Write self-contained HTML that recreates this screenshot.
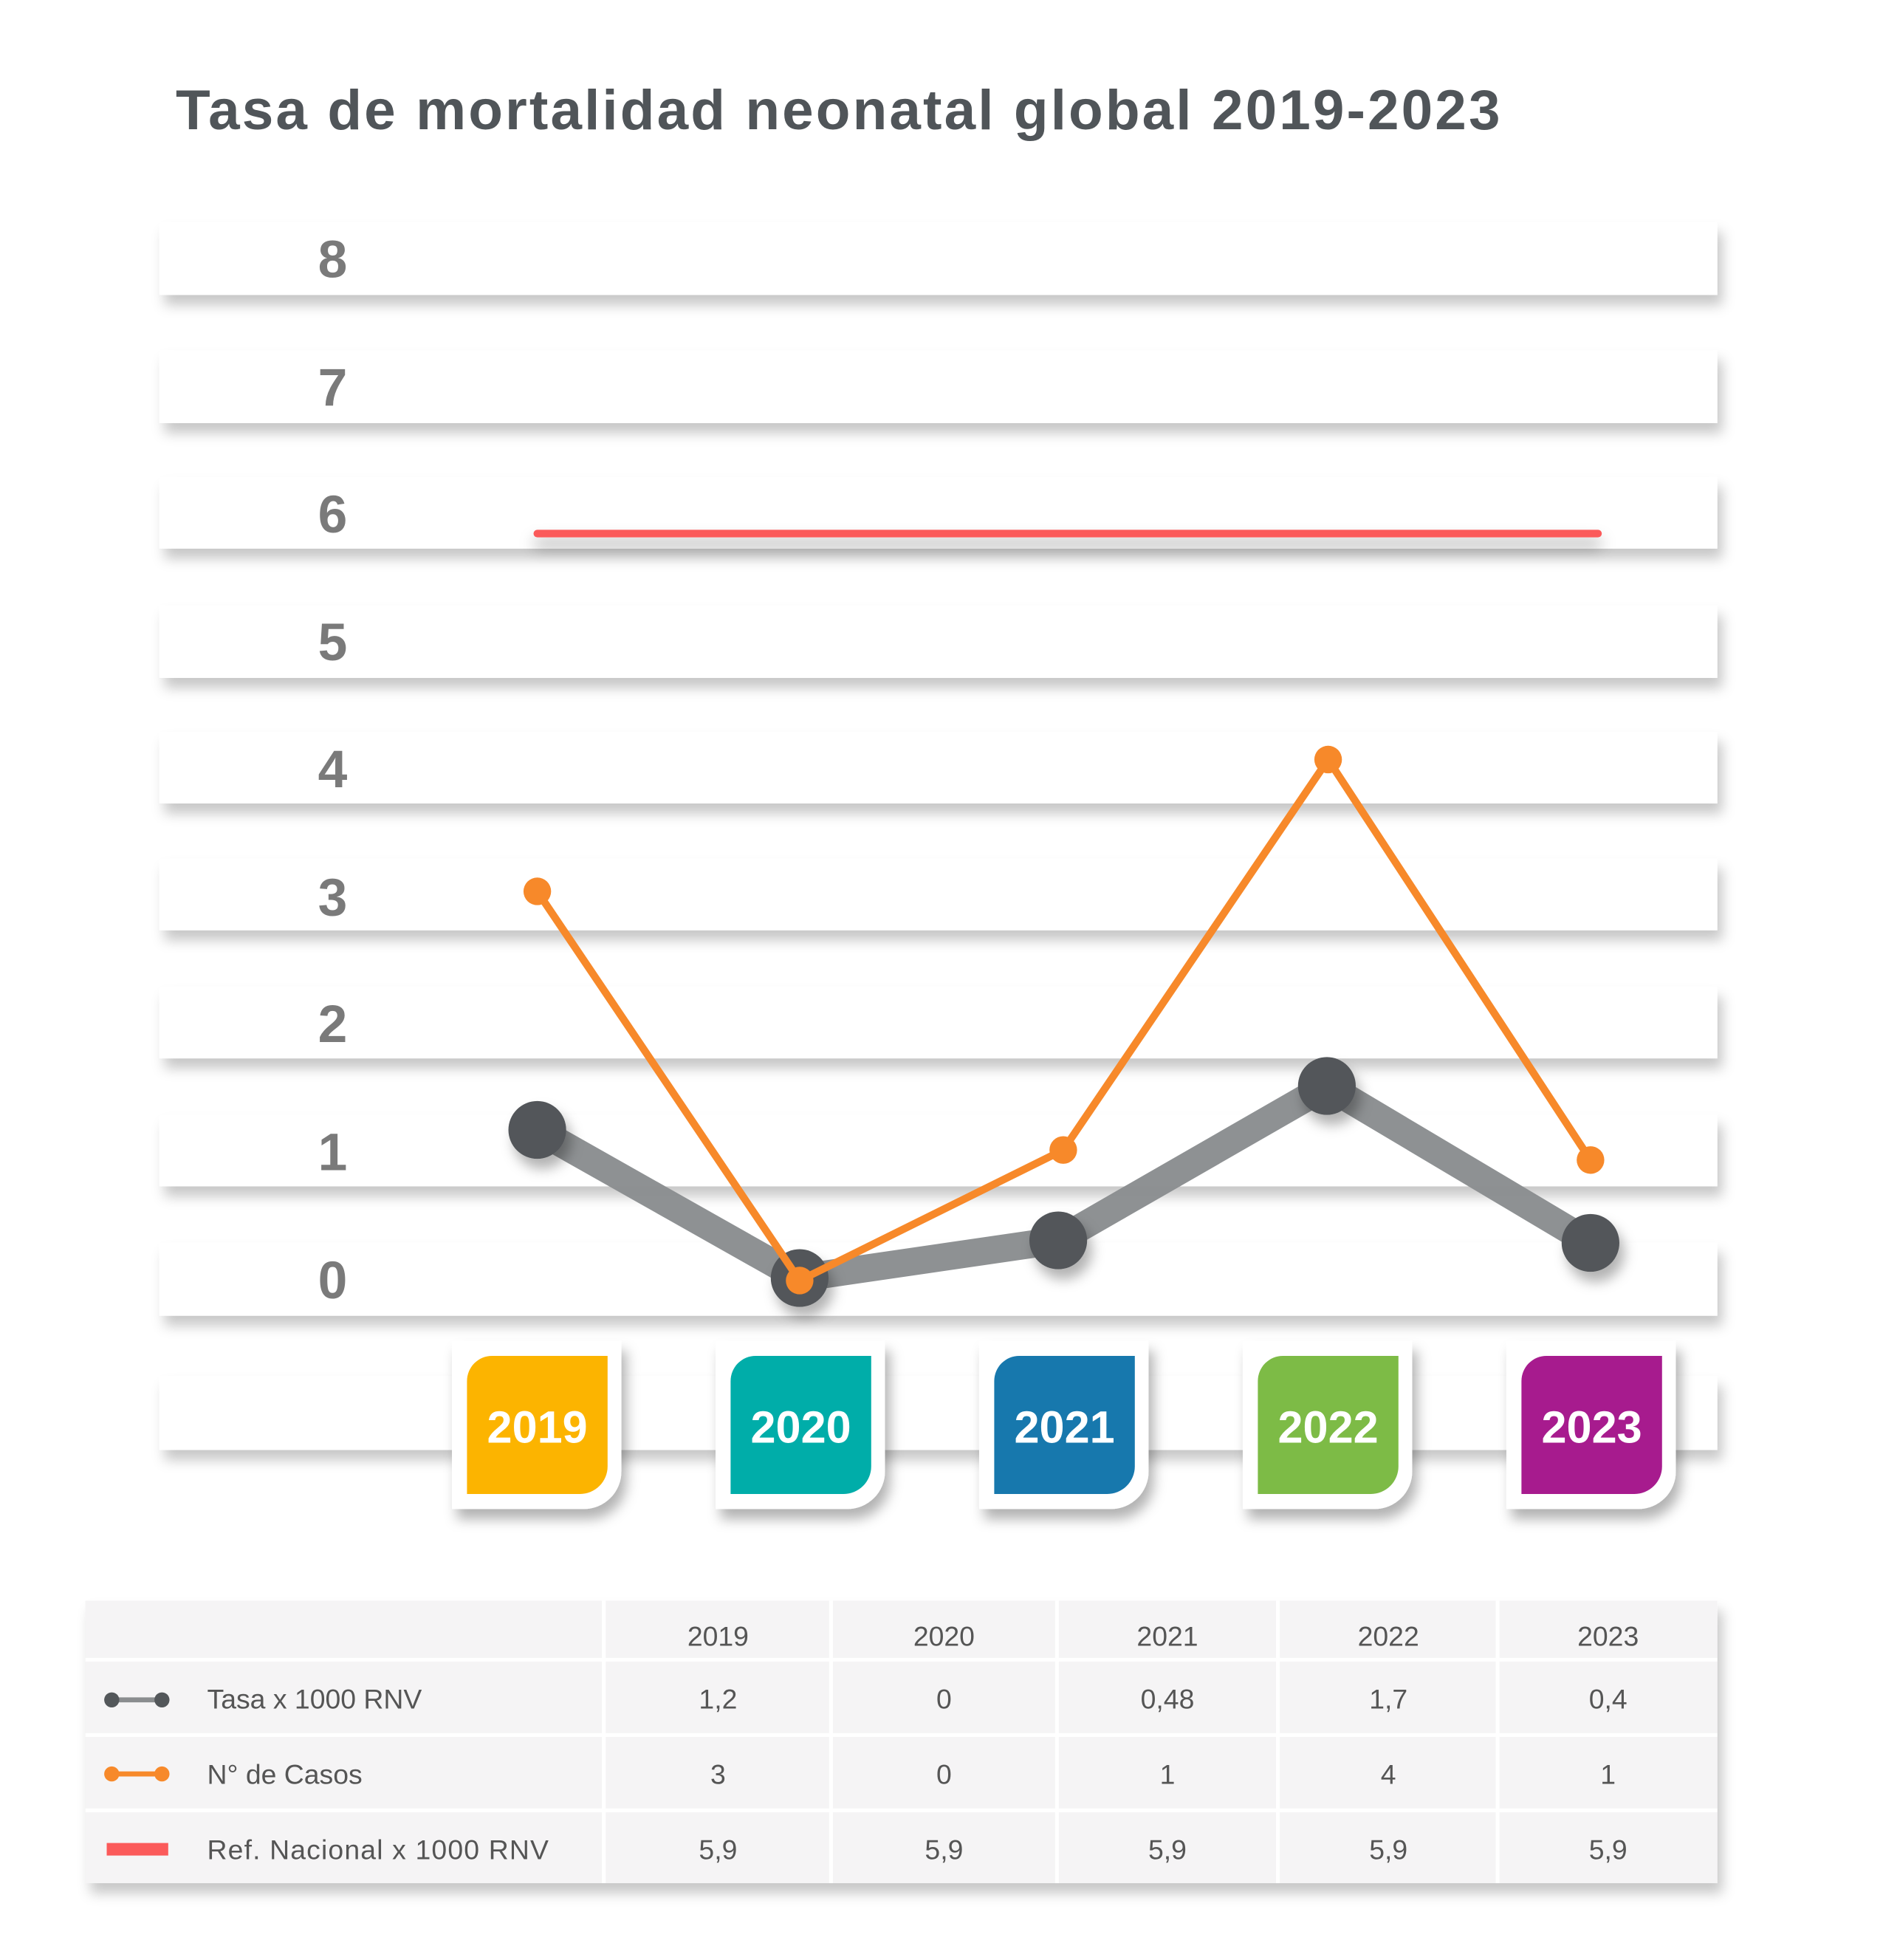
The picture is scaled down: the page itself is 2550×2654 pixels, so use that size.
<!DOCTYPE html>
<html><head><meta charset="utf-8"><style>html,body{margin:0;padding:0;background:#fff}svg{display:block}</style></head>
<body>
<svg width="2550" height="2654" viewBox="0 0 1500 1561.2" xmlns="http://www.w3.org/2000/svg" font-family="'Liberation Sans', sans-serif">
<defs>
<filter id="sh" x="-5%" y="-50%" width="110%" height="250%"><feDropShadow dx="4" dy="8" stdDeviation="5" flood-color="#000" flood-opacity="0.22"/></filter>
<filter id="sh2" x="-30%" y="-30%" width="160%" height="170%"><feDropShadow dx="4" dy="8" stdDeviation="5" flood-color="#000" flood-opacity="0.3"/></filter>
<filter id="sh3" filterUnits="userSpaceOnUse" x="400" y="400" width="900" height="60"><feDropShadow dx="0" dy="8" stdDeviation="6" flood-color="#000" flood-opacity="0.35"/></filter>
</defs>
<rect width="1500" height="1561.2" fill="#fff"/>
<text x="140" y="103" font-size="45" font-weight="bold" fill="#505559" textLength="1055" lengthAdjust="spacing">Tasa de mortalidad neonatal global 2019-2023</text>
<g filter="url(#sh)" fill="#fff">
<rect x="127" y="177" width="1241" height="58"/>
<rect x="127" y="279" width="1241" height="58"/>
<rect x="127" y="380" width="1241" height="57"/>
<rect x="127" y="482" width="1241" height="58"/>
<rect x="127" y="583" width="1241" height="57"/>
<rect x="127" y="684" width="1241" height="57"/>
<rect x="127" y="786" width="1241" height="57"/>
<rect x="127" y="888" width="1241" height="57"/>
<rect x="127" y="990" width="1241" height="58"/>
<rect x="127" y="1096" width="1241" height="59"/>
</g>
<g font-size="42" font-weight="bold" fill="#7a7a7a" text-anchor="middle">
<text x="265" y="221">8</text><text x="265" y="323">7</text><text x="265" y="424">6</text>
<text x="265" y="526">5</text><text x="265" y="627">4</text><text x="265" y="729">3</text>
<text x="265" y="830">2</text><text x="265" y="932">1</text><text x="265" y="1034">0</text>
</g>
<rect x="425" y="422" width="851" height="6" rx="3" fill="#fb5a5a" filter="url(#sh3)"/>
<polyline points="428,900 637,1018 843,988 1057,865 1267,990" fill="none" stroke="#8a8d8f" stroke-width="22" stroke-linejoin="round" opacity="0.97"/>
<g fill="#53575a" filter="url(#sh2)">
<circle cx="428" cy="900" r="23"/><circle cx="637" cy="1018" r="23"/><circle cx="843" cy="988" r="23"/><circle cx="1057" cy="865" r="23"/><circle cx="1267" cy="990" r="23"/>
</g>
<polyline points="428,710 637,1020 847,916 1058,605 1267,924" fill="none" stroke="#f7892a" stroke-width="6" stroke-linejoin="round"/>
<g fill="#f7892a">
<circle cx="428" cy="710" r="11"/><circle cx="637" cy="1020" r="11"/><circle cx="847" cy="916" r="11"/><circle cx="1058" cy="605" r="11"/><circle cx="1267" cy="924" r="11"/>
</g>
<g font-size="36" font-weight="bold" fill="#fff" text-anchor="middle">
<g>
<path d="M360 1068 H495 V1172 A30 30 0 0 1 465 1202 H360 Z" fill="#fff" filter="url(#sh2)"/>
<path d="M392 1080 H484 V1168 A22 22 0 0 1 462 1190 H372 V1100 A20 20 0 0 1 392 1080 Z" fill="#fcb400"/>
<text x="428" y="1149">2019</text></g>
<g transform="translate(210,0)">
<path d="M360 1068 H495 V1172 A30 30 0 0 1 465 1202 H360 Z" fill="#fff" filter="url(#sh2)"/>
<path d="M392 1080 H484 V1168 A22 22 0 0 1 462 1190 H372 V1100 A20 20 0 0 1 392 1080 Z" fill="#00ada9"/>
<text x="428" y="1149">2020</text></g>
<g transform="translate(420,0)">
<path d="M360 1068 H495 V1172 A30 30 0 0 1 465 1202 H360 Z" fill="#fff" filter="url(#sh2)"/>
<path d="M392 1080 H484 V1168 A22 22 0 0 1 462 1190 H372 V1100 A20 20 0 0 1 392 1080 Z" fill="#1778ad"/>
<text x="428" y="1149">2021</text></g>
<g transform="translate(630,0)">
<path d="M360 1068 H495 V1172 A30 30 0 0 1 465 1202 H360 Z" fill="#fff" filter="url(#sh2)"/>
<path d="M392 1080 H484 V1168 A22 22 0 0 1 462 1190 H372 V1100 A20 20 0 0 1 392 1080 Z" fill="#7dbb46"/>
<text x="428" y="1149">2022</text></g>
<g transform="translate(840,0)">
<path d="M360 1068 H495 V1172 A30 30 0 0 1 465 1202 H360 Z" fill="#fff" filter="url(#sh2)"/>
<path d="M392 1080 H484 V1168 A22 22 0 0 1 462 1190 H372 V1100 A20 20 0 0 1 392 1080 Z" fill="#a71b8e"/>
<text x="428" y="1149">2023</text></g>
</g>
<rect x="68" y="1275" width="1300" height="225" fill="#f5f4f5" filter="url(#sh)"/>
<g stroke="#fff" stroke-width="3">
<line x1="481" y1="1275" x2="481" y2="1500"/><line x1="662" y1="1275" x2="662" y2="1500"/>
<line x1="842" y1="1275" x2="842" y2="1500"/><line x1="1018" y1="1275" x2="1018" y2="1500"/>
<line x1="1193" y1="1275" x2="1193" y2="1500"/>
<line x1="68" y1="1322" x2="1368" y2="1322"/><line x1="68" y1="1382" x2="1368" y2="1382"/><line x1="68" y1="1442" x2="1368" y2="1442"/>
</g>
<line x1="89" y1="1354" x2="129" y2="1354" stroke="#8a8d8f" stroke-width="4"/>
<circle cx="89" cy="1354" r="6" fill="#53575a"/><circle cx="129" cy="1354" r="6" fill="#53575a"/>
<line x1="89" y1="1413" x2="129" y2="1413" stroke="#f7892a" stroke-width="4"/>
<circle cx="89" cy="1413" r="6" fill="#f7892a"/><circle cx="129" cy="1413" r="6" fill="#f7892a"/>
<rect x="85" y="1468" width="49" height="10" fill="#fb5a5a"/>
<g font-size="22" fill="#555">
<text x="165" y="1361">Tasa x 1000 RNV</text>
<text x="165" y="1421">N° de Casos</text>
<text x="165" y="1481" textLength="272" lengthAdjust="spacing">Ref. Nacional x 1000 RNV</text>
</g>
<g font-size="22" fill="#555" text-anchor="middle">
<text x="572" y="1311">2019</text><text x="752" y="1311">2020</text><text x="930" y="1311">2021</text><text x="1106" y="1311">2022</text><text x="1281" y="1311">2023</text>
<text x="572" y="1361">1,2</text><text x="752" y="1361">0</text><text x="930" y="1361">0,48</text><text x="1106" y="1361">1,7</text><text x="1281" y="1361">0,4</text>
<text x="572" y="1421">3</text><text x="752" y="1421">0</text><text x="930" y="1421">1</text><text x="1106" y="1421">4</text><text x="1281" y="1421">1</text>
<text x="572" y="1481">5,9</text><text x="752" y="1481">5,9</text><text x="930" y="1481">5,9</text><text x="1106" y="1481">5,9</text><text x="1281" y="1481">5,9</text>
</g>
</svg>
</body></html>
